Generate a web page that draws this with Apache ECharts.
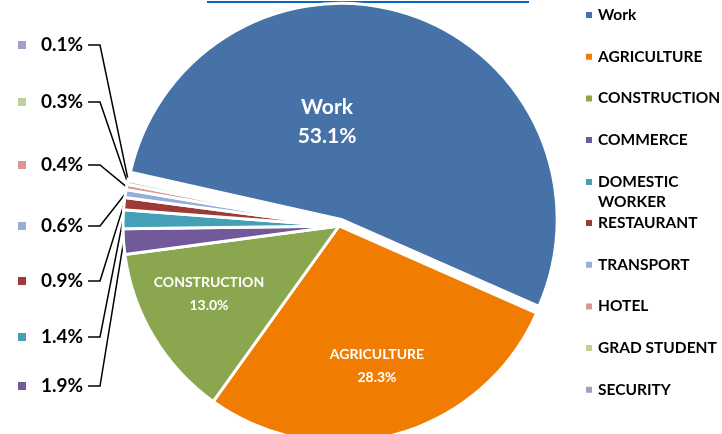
<!DOCTYPE html>
<html><head><meta charset="utf-8">
<script src="https://cdn.jsdelivr.net/npm/echarts@6/dist/echarts.min.js"></script>
<style>html,body{margin:0;padding:0;background:#fff}#c{width:722px;height:434px}</style>
</head><body><div id="c"></div>
<script>
// ---- data ----
const categories = ['Work','AGRICULTURE','CONSTRUCTION','COMMERCE','DOMESTIC WORKER','RESTAURANT','TRANSPORT','HOTEL','GRAD STUDENT','SECURITY'];
const shares = [53.1, 28.3, 13.0, 1.9, 1.4, 0.9, 0.6, 0.4, 0.3, 0.1];
const colors = ['#4672A8','#F07D02','#8AA74F','#72599A','#43A0B7','#9C3A38','#96AEDA','#D99695','#BBD29A','#AA9DC4'];

// ---- layout (label placement only) ----
const innerLabelPos = {0: [327, 122], 1: [377, 366], 2: [209, 294]};
const sideLabelY = {3: 386, 4: 337, 5: 281, 6: 226, 7: 165, 8: 102, 9: 45};
const FONT = 'Lato';
const CENTER = [339, 226], RADIUS = 216, START = 167.4, EXPLODE = 7;

const rich = { v: { fontFamily: FONT, fontSize: 19, fontWeight: 'bold', color: '#000', padding: [0, 0, 0, 15] } };
categories.forEach((c, i) => { rich['s' + i] = { width: 8, height: 8, backgroundColor: colors[i] }; });

const hidden = { itemStyle: { color: 'rgba(0,0,0,0)', borderWidth: 0 }, label: { show: false }, labelLine: { show: false } };
const innerLabel = i => ({
  show: true, position: 'inside', color: '#fff', fontFamily: FONT, fontWeight: 'bold',
  fontSize: i === 0 ? 21 : 14, lineHeight: i === 0 ? 29 : 23,
  formatter: p => p.name + '\n' + p.value.toFixed(1) + '%'
});

// main pie: every slice except the exploded first one (kept as an invisible gap)
const mainData = categories.map((name, i) => {
  if (i === 0) return Object.assign({ name: '__gap', value: shares[0] }, hidden);
  const item = { name, value: shares[i], itemStyle: { color: colors[i] } };
  if (i < 3) { item.label = innerLabel(i); item.labelLine = { show: false }; }
  return item;
});
// exploded first slice, drawn on the same angle scale with the rest invisible
const restTotal = shares.slice(1).reduce((a, b) => a + b, 0);
const explodedData = [
  { name: categories[0], value: shares[0], itemStyle: { color: colors[0] }, label: innerLabel(0), labelLine: { show: false } },
  Object.assign({ name: '__rest', value: restTotal }, hidden)
];
const work = shares[0] / (shares[0] + restTotal) * 360;
const mid = (START - work / 2) * Math.PI / 180;
const explodedCenter = [CENTER[0] + EXPLODE * Math.cos(mid), CENTER[1] - EXPLODE * Math.sin(mid)];

const labelLayoutFor = seriesIdx => params => {
  const i = seriesIdx === 1 ? 0 : params.dataIndex;
  if (innerLabelPos[i]) {
    return { x: innerLabelPos[i][0], y: innerLabelPos[i][1], align: 'center', verticalAlign: 'middle' };
  }
  const y = sideLabelY[i];
  if (y == null) return {};
  const a = params.labelLinePoints ? params.labelLinePoints[0] : [128, 180];
  return { x: 18, y, align: 'left', verticalAlign: 'middle', labelLinePoints: [a, [100, y], [88, y]] };
};

const legendBase = {
  orient: 'vertical', left: 584, padding: 0,
  icon: 'rect', itemWidth: 8, itemHeight: 8, itemGap: 21.7,
  selectedMode: false,
  textStyle: { fontFamily: FONT, fontWeight: 'bold', fontSize: 15.5, color: '#000', lineHeight: 20 },
  // the two-word entry wraps below its first line, as in the reference
  formatter: n => n === 'DOMESTIC WORKER' ? '\nDOMESTIC\nWORKER' : n
};

const chart = echarts.init(document.getElementById('c'), null, { renderer: 'canvas' });
chart.setOption({
  animation: false,
  graphic: [{ type: 'rect', shape: { x: 207, y: 1, width: 322, height: 2 }, style: { fill: '#0A66C2' } }],
  legend: [
    Object.assign({}, legendBase, { top: 5, data: categories.slice(0, 4) }),
    Object.assign({}, legendBase, { top: 152, data: [categories[4]] }),
    Object.assign({}, legendBase, { top: 213, data: categories.slice(5) })
  ],
  series: [{
    type: 'pie', center: CENTER, radius: RADIUS, startAngle: START, clockwise: true,
    avoidLabelOverlap: false, selectedMode: false,
    itemStyle: { borderColor: '#fff', borderWidth: 3 },
    emphasis: { disabled: true },
    label: { show: true, position: 'outside', formatter: p => `{s${p.dataIndex}| }{v|${p.value.toFixed(1)}%}`, rich },
    labelLine: { show: true, lineStyle: { color: '#000', width: 1.5 } },
    labelLayout: labelLayoutFor(0),
    data: mainData
  }, {
    type: 'pie', center: explodedCenter, radius: RADIUS, startAngle: START, clockwise: true,
    avoidLabelOverlap: false, selectedMode: false,
    itemStyle: { borderColor: '#fff', borderWidth: 3 },
    emphasis: { disabled: true },
    labelLayout: labelLayoutFor(1),
    data: explodedData
  }]
});
</script></body></html>
